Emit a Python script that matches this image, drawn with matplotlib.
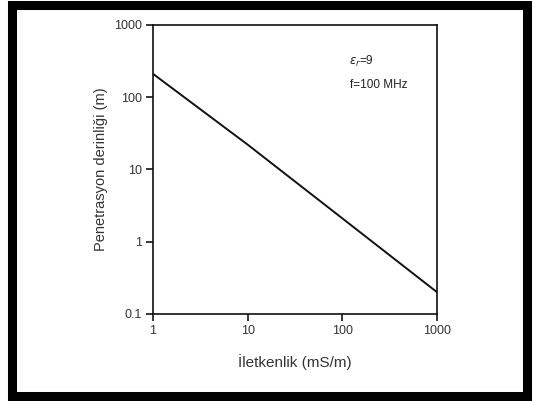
import numpy as np
import matplotlib
matplotlib.use('Agg')
import matplotlib.pyplot as plt
from matplotlib.patches import Rectangle

# Penetration depth vs conductivity, eps_r = 9, f = 100 MHz
iletkenlik = [1, 10, 100, 1000]          # mS/m
derinlik = [210, 22, 2.1, 0.2]           # m
x_ticks = [1, 10, 100, 1000]
y_ticks = [0.1, 1, 10, 100, 1000]

plt.rcParams['font.family'] = ['Liberation Sans', 'DejaVu Sans']

fig = plt.figure(figsize=(5.35, 4.01), dpi=100)
ax = fig.add_axes([0.286, 0.217, 0.531, 0.721])

ax.plot(iletkenlik, derinlik, color='#111111', lw=1.4)

ax.set_xscale('log')
ax.set_yscale('log')
ax.set_xlim(1, 1000)
ax.set_ylim(0.1, 1000)
ax.set_xticks(x_ticks)
ax.set_xticklabels([str(v) for v in x_ticks])
ax.set_yticks(y_ticks)
ax.set_yticklabels(['0.1', '1', '10', '100', '1000'])
ax.minorticks_off()
ax.tick_params(length=5, width=1.1, labelsize=9, labelcolor='#333333', pad=3)

for s in ax.spines.values():
    s.set_linewidth(1.2)
    s.set_color('#111111')

ax.set_xlabel('İletkenlik (mS/m)', fontsize=11, color='#333333', labelpad=12)
ax.set_ylabel('Penetrasyon derinliği (m)', fontsize=10.5, color='#333333', labelpad=4)

ax.text(0.69, 0.86, r'$\varepsilon_r$=9', transform=ax.transAxes, fontsize=8.5, color='#222222')
ax.text(0.695, 0.78, 'f=100 MHz', transform=ax.transAxes, fontsize=8.5, color='#222222')

# heavy frame round the whole figure
fig.patches.append(Rectangle((0.022, 0.012), 0.963, 0.975, transform=fig.transFigure,
                             fill=False, edgecolor='black', lw=6.5))

fig.savefig('out.png', dpi=100)
